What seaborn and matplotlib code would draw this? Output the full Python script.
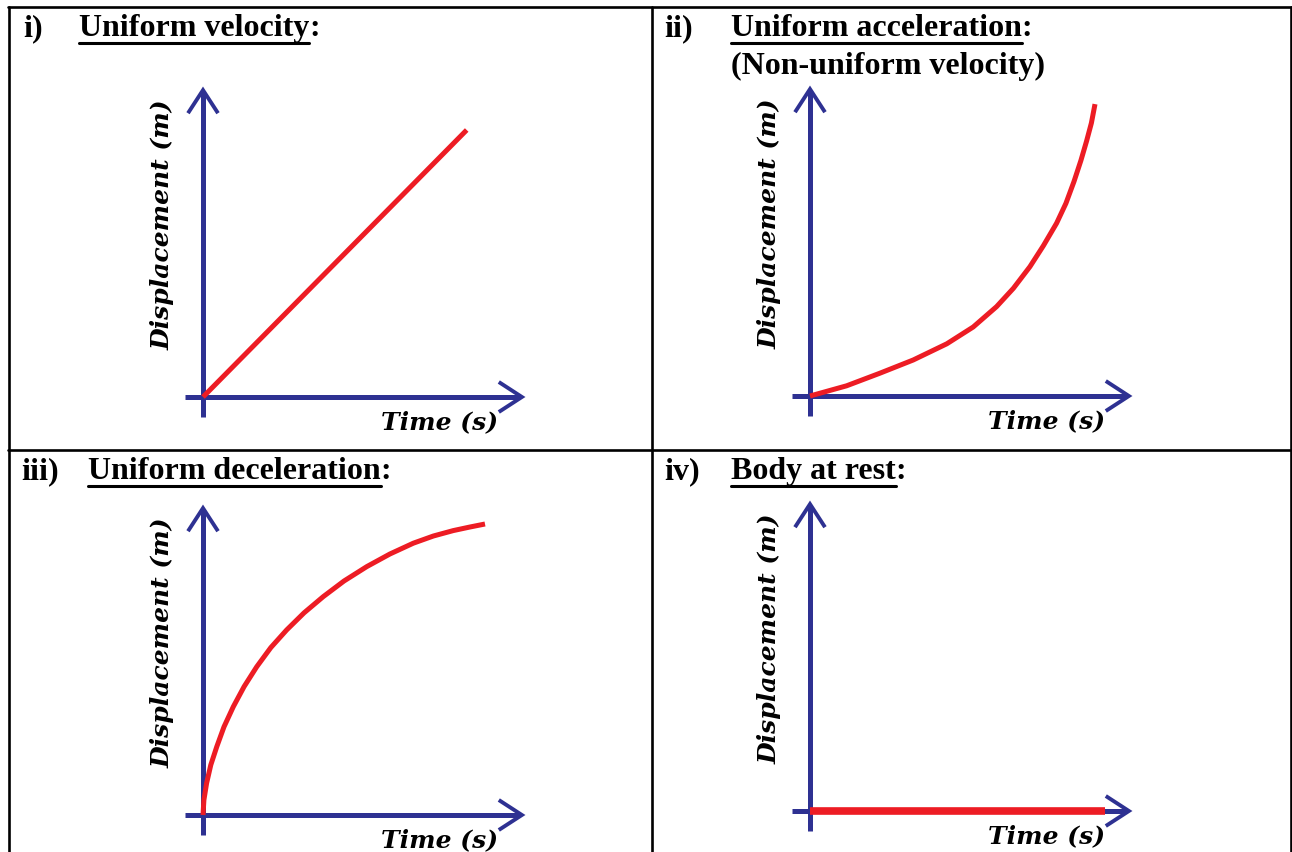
import matplotlib
matplotlib.use('Agg')
import matplotlib.pyplot as plt
from matplotlib.lines import Line2D
import seaborn as sns
import pandas as pd

W, H = 1292, 852
UNIT = 30  # pixels per data unit on every panel

# values (time, displacement)
t_velocity = [0, 8.79]
d_velocity = [0, 8.90]

t_accel = [0, 1.22, 2.33, 3.44, 4.56, 5.44, 6.22, 6.78, 7.33, 7.78, 8.22, 8.53, 8.80, 9.03, 9.22, 9.38, 9.50]
d_accel = [0, 0.34, 0.76, 1.20, 1.74, 2.30, 2.98, 3.59, 4.31, 5.01, 5.76, 6.42, 7.15, 7.85, 8.50, 9.10, 9.73]

t_decel = [0, 0.03, 0.12, 0.26, 0.46, 0.70, 1.01, 1.37, 1.79, 2.26, 2.79, 3.37, 4.01, 4.70, 5.46, 6.23, 7.01, 7.68, 8.34, 8.90, 9.40]
d_decel = [0, 0.50, 1.06, 1.67, 2.28, 2.94, 3.61, 4.28, 4.94, 5.58, 6.17, 6.74, 7.28, 7.80, 8.28, 8.70, 9.06, 9.30, 9.48, 9.60, 9.70]

t_rest = [0, 9.83]
d_rest = [0, 0]

numerals = ['i)', 'ii)', 'iii)', 'iv)']
titles = ['Uniform velocity', 'Uniform acceleration', 'Uniform deceleration', 'Body at rest']
subtitle = '(Non-uniform velocity)'
xlabel = 'Time (s)'
ylabel = 'Displacement (m)'

BLUE = '#2E3192'
RED = '#ED1C24'

sns.set_style('white')
fig = plt.figure(figsize=(W / 100, H / 100), dpi=100)


def fx(x):
    return x / W


def fy(y):
    return 1 - y / H


# table grid
for x in [9, 651.5, 1290.5]:
    fig.add_artist(Line2D([fx(x), fx(x)], [fy(7), fy(H + 5)], color='black', lw=1.9))
for y in [7, 449.5]:
    fig.add_artist(Line2D([fx(8), fx(1291.5)], [fy(y), fy(y)], color='black', lw=1.9))

lfont = dict(fontsize=18, family='DejaVu Serif', style='italic', weight='bold', color='black')


def panel(ox, oy, t, d, red_lw=3.6):
    left, right, up, down = 80, 345, 330, 50
    ax = fig.add_axes([fx(ox - left), fy(oy + down), (left + right) / W, (up + down) / H])
    # axes with open arrow heads
    ytop, xend = 10.23, 10.63
    ax.plot([0, 0], [-0.67, ytop - 0.05], color=BLUE, lw=3.6, solid_capstyle='butt')
    ax.plot([-0.6, xend - 0.05], [0, 0], color=BLUE, lw=3.6, solid_capstyle='butt')
    ax.plot([-0.5, 0, 0.5], [ytop - 0.77, ytop, ytop - 0.77], color=BLUE, lw=2.8,
            solid_joinstyle='miter', solid_capstyle='butt')
    ax.plot([xend - 0.77, xend, xend - 0.77], [0.5, 0, -0.5], color=BLUE, lw=2.8,
            solid_joinstyle='miter', solid_capstyle='butt')
    df = pd.DataFrame({'time': t, 'disp': d})
    sns.lineplot(data=df, x='time', y='disp', ax=ax, color=RED, lw=red_lw, sort=False,
                 solid_capstyle='butt', solid_joinstyle='round')
    ax.set_xlim(-left / UNIT, right / UNIT)
    ax.set_ylim(-down / UNIT, up / UNIT)
    ax.axis('off')
    ax.text(-1.35, 5.75, ylabel, rotation=90, ha='center', va='center', **lfont)
    ax.text(7.9, -0.83, xlabel, ha='center', va='center', **lfont)
    return ax


panel(203, 397, t_velocity, d_velocity)
panel(810, 396, t_accel, d_accel)
panel(203, 815, t_decel, d_decel)
panel(810, 811, t_rest, d_rest, red_lw=5.5)

renderer = fig.canvas.get_renderer()
tfont = dict(family='Liberation Serif', weight='bold', fontsize=23, color='black')
title_pos = [(23, 79, 36), (664, 731, 36), (21, 88, 479), (664, 731, 479)]
for num, title, (nx, tx, by) in zip(numerals, titles, title_pos):
    fig.text(fx(nx), fy(by), num, va='baseline', ha='left', **tfont)
    tt = fig.text(fx(tx), fy(by), title, va='baseline', ha='left', **tfont)
    bb = tt.get_window_extent(renderer)
    fig.add_artist(Line2D([bb.x0 / W, bb.x1 / W], [fy(by + 7), fy(by + 7)], color='black', lw=2.2))
    fig.text(bb.x1 / W, fy(by), ':', va='baseline', ha='left', **tfont)
fig.text(fx(731), fy(74), subtitle, va='baseline', ha='left', **tfont)

fig.savefig('out.png', dpi=100)
